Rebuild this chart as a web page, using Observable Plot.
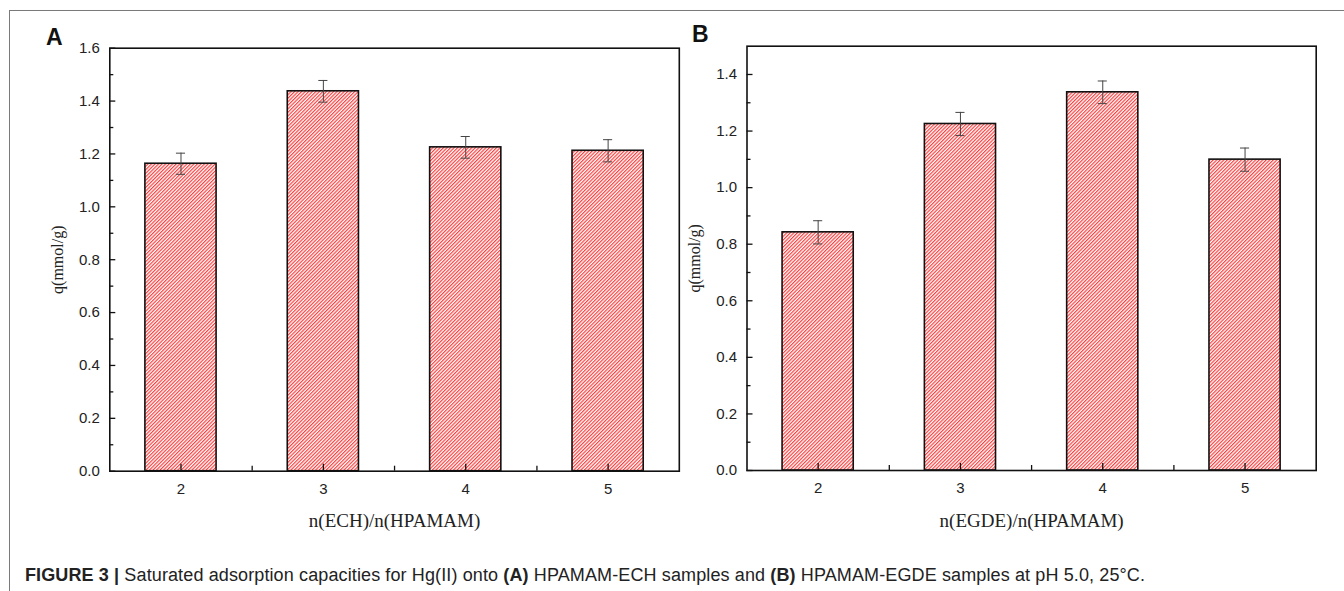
<!DOCTYPE html>
<html><head><meta charset="utf-8">
<script src="https://cdn.jsdelivr.net/npm/d3@7"></script>
<script src="https://cdn.jsdelivr.net/npm/@observablehq/plot@0.6"></script>
<style>
html,body{margin:0;padding:0;background:#fff;}
body{width:1344px;height:591px;position:relative;overflow:hidden;font-family:"Liberation Sans",Arial,sans-serif;}
#border{position:absolute;left:9px;top:10px;width:1400px;height:700px;border-left:1px solid #7a7a7a;border-top:1px solid #7a7a7a;}
.panel{position:absolute;top:0;height:545px;}
.panel svg{max-width:none !important;}
.plabel{position:absolute;font-weight:bold;font-size:23px;line-height:23px;color:#111;}
#caption{position:absolute;left:25px;top:566px;font-size:18px;line-height:18px;letter-spacing:0.12px;white-space:nowrap;color:#222;}
</style>
</head><body>
<div id="border"></div>
<div class="panel" id="pA" style="left:0px;width:690px"></div>
<div class="panel" id="pB" style="left:690px;width:654px"></div>
<div class="plabel" style="left:46px;top:26px">A</div>
<div class="plabel" style="left:692px;top:23px">B</div>
<div id="caption"><b>FIGURE 3 |</b> Saturated adsorption capacities for Hg(II) onto <b>(A)</b> HPAMAM-ECH samples and <b>(B)</b> HPAMAM-EGDE samples at pH 5.0, 25°C.</div>
<script>
// ---- data ----
const ratios = [2, 3, 4, 5];
const qA = [1.163, 1.437, 1.225, 1.212];
const errA = [0.040, 0.041, 0.041, 0.042];
const qB = [0.842, 1.225, 1.337, 1.099];
const errB = [0.041, 0.041, 0.040, 0.041];
const yTicksA = [0, 0.2, 0.4, 0.6, 0.8, 1.0, 1.2, 1.4, 1.6];
const yMinorA = [0.1, 0.3, 0.5, 0.7, 0.9, 1.1, 1.3, 1.5];
const yTicksB = [0, 0.2, 0.4, 0.6, 0.8, 1.0, 1.2, 1.4];
const yMinorB = [0.1, 0.3, 0.5, 0.7, 0.9, 1.1, 1.3];
const xTicks = [2, 3, 4, 5];
const xMinor = [2.5, 3.5, 4.5];
const xLabelA = "n(ECH)/n(HPAMAM)";
const xLabelB = "n(EGDE)/n(HPAMAM)";
const yLabel = "q(mmol/g)";

const sans = "'Liberation Sans', Arial, sans-serif";
const serif = "'Liberation Serif', 'Times New Roman', serif";

function panel(cfg) {
  const data = ratios.map((r, i) => ({r, q: cfg.q[i], e: cfg.err[i]}));
  const halfBar = 0.25, halfCap = 0.032;
  const tk = {stroke: "#111", strokeWidth: 1.3, tickFormat: () => "", label: null};
  const svg = Plot.plot({
    width: cfg.width, height: cfg.height,
    marginLeft: cfg.ml, marginRight: cfg.mr, marginTop: cfg.mt, marginBottom: cfg.mb,
    x: {domain: [1.5, 5.5]},
    y: {domain: cfg.yDomain},
    style: {fontFamily: sans, fontSize: "15px", color: "#222", background: "transparent", overflow: "visible", maxWidth: "none"},
    marks: [
      Plot.rect(data, {x1: d => d.r - halfBar, x2: d => d.r + halfBar, y1: 0, y2: "q", fill: `url(#hatch-${cfg.id})`, stroke: "#111", strokeWidth: 1.6}),
      Plot.ruleX(data, {x: "r", y1: d => d.q - d.e, y2: d => d.q + d.e, stroke: "#444", strokeWidth: 1}),
      Plot.ruleY(data, {y: d => d.q + d.e, x1: d => d.r - halfCap, x2: d => d.r + halfCap, stroke: "#444", strokeWidth: 1}),
      Plot.ruleY(data, {y: d => d.q - d.e, x1: d => d.r - halfCap, x2: d => d.r + halfCap, stroke: "#444", strokeWidth: 1}),
      Plot.frame({stroke: "#111", strokeWidth: 1.6}),
      Plot.axisY({ticks: cfg.yTicks, tickSize: -6, ...tk}),
      Plot.axisY({ticks: cfg.yMinor, tickSize: -4, ...tk}),
      Plot.axisX({ticks: xTicks, tickSize: -7, ...tk}),
      Plot.axisX({ticks: xMinor, tickSize: -5, ...tk}),
      Plot.axisY({ticks: cfg.yTicks, tickSize: 0, tickPadding: 10, tickFormat: d3.format(".1f"), label: null, fontSize: 15, fontFamily: sans, fill: "#222"}),
      Plot.axisX({ticks: xTicks, tickSize: 0, tickPadding: 12, tickFormat: d3.format("d"), label: null, fontSize: 15, fontFamily: sans, fill: "#222"}),
      Plot.axisY({ticks: [], tickSize: 0, label: yLabel, labelAnchor: "center", labelOffset: 58, labelArrow: "none", fontSize: 16, fontFamily: serif, fill: "#222"}),
      Plot.axisX({ticks: [], tickSize: 0, label: cfg.xLabel, labelAnchor: "center", labelOffset: 56, labelArrow: "none", fontSize: 19, fontFamily: serif, fill: "#222"})
    ]
  });
  const defs = d3.select(svg).insert("defs", ":first-child");
  const pat = defs.append("pattern").attr("id", `hatch-${cfg.id}`).attr("patternUnits", "userSpaceOnUse")
    .attr("width", 2.5).attr("height", 2.5).attr("patternTransform", "rotate(45)");
  pat.append("rect").attr("width", 2.5).attr("height", 2.5).attr("fill", "#fff");
  pat.append("line").attr("x1", 0.6).attr("y1", 0).attr("x2", 0.6).attr("y2", 2.5).attr("stroke", "#ff3030").attr("stroke-width", 1.1);
  document.getElementById(cfg.el).appendChild(svg);
}

panel({id: "A", el: "pA", q: qA, err: errA, yDomain: [0, 1.6], yTicks: yTicksA, yMinor: yMinorA, xLabel: xLabelA,
  width: 690, height: 545, ml: 109.3, mr: 11.2, mt: 47.7, mb: 74.3});
panel({id: "B", el: "pB", q: qB, err: errB, yDomain: [0, 1.5], yTicks: yTicksB, yMinor: yMinorB, xLabel: xLabelB,
  width: 654, height: 545, ml: 56.5, mr: 28.3, mt: 45.7, mb: 75});
</script>
</body></html>
